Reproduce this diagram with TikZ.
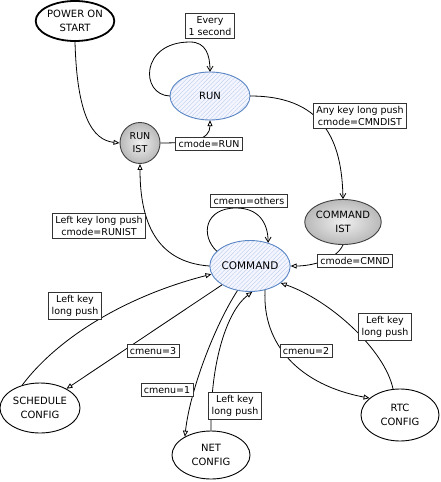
\documentclass[tikz,border=0pt]{standalone}
\usepackage{fontspec}
\setmainfont{DejaVu Sans}
\usetikzlibrary{shapes.geometric,arrows.meta,patterns.meta}
\definecolor{sblue}{HTML}{5A86C4}
\definecolor{hblue}{HTML}{B4CBEA}
\tikzset{
  st/.style={ellipse,draw,line width=0.9pt,inner sep=0pt,align=center,font=\fontsize{10}{14}\selectfont},
  bluest/.style={st,draw=sblue,preaction={fill=blue!4},pattern={Lines[angle=45,distance=3pt,line width=0.35pt]},pattern color=hblue},
  grayst/.style={st,draw=black!75,shading=radial,inner color=gray!12,outer color=gray!55},
  lbl/.style={draw=black!80,fill=white,line width=0.5pt,inner sep=3pt,align=center,font=\fontsize{9.5}{12}\selectfont},
  conn/.style={line width=0.8pt,-{Triangle[open,length=6pt,width=5pt]}},
  connb/.style={line width=0.8pt,-{Straight Barb[length=5pt,width=6pt]}}
}
\begin{document}
\begin{tikzpicture}[x=1pt,y=-1pt]
\useasboundingbox (0,0) rectangle (441,482);
% states
\node[st,line width=1.8pt,minimum width=70pt,minimum height=40pt] (power) at (75,21) {POWER ON\\START};
\node[bluest,minimum width=80pt,minimum height=48pt] (run) at (210,96) {RUN};
\node[grayst,minimum width=40pt,minimum height=41pt,font=\fontsize{9.5}{13}\selectfont] (runist) at (140,143) {RUN\\IST};
\node[grayst,minimum width=66pt,minimum height=45pt] (cmdist) at (343,222) {COMMAND\\IST};
\node[bluest,minimum width=80pt,minimum height=51pt,font=\fontsize{10.5}{14}\selectfont] (command) at (250,266) {COMMAND};
\node[st,minimum width=80pt,minimum height=50pt] (sched) at (40,408) {SCHEDULE\\CONFIG};
\node[st,minimum width=78pt,minimum height=48pt] (net) at (211,455) {NET\\CONFIG};
\node[st,minimum width=78pt,minimum height=52pt] (rtc) at (400,415) {RTC\\CONFIG};
% connectors
\draw[conn] (power.south) .. controls (77,115) and (92,140) .. (runist.west);
\draw[conn] (runist.east) .. controls (192,143) and (210,140) .. (run.south);
\draw[connb] (run.west) .. controls (140,95) and (140,42) .. (190,42) .. controls (206,42) and (210,55) .. (run.north);
\draw[connb] (run.east) .. controls (330,96) and (342,150) .. (cmdist.north);
\draw[conn] (cmdist.south) .. controls (336,260) and (312,266) .. (command.east);
\draw[conn] (command.west) .. controls (155,262) and (140,220) .. (runist.south);
\draw[connb] (command.156) .. controls (200,235) and (205,208) .. (236,208) .. controls (258,208) and (268,222) .. (command.52);
\draw[conn] (sched.128) .. controls (60,335) and (130,295) .. (command.192);
\draw[conn] (command.214) -- (sched.36);
\draw[conn] (command.243) .. controls (215,325) and (190,390) .. (net.145);
\draw[conn] (net.north) .. controls (210,360) and (228,310) .. (command.275);
\draw[conn] (command.302) .. controls (262,345) and (300,385) .. (rtc.151);
\draw[conn] (rtc.105) .. controls (385,350) and (330,300) .. (command.331);
% labels
\node[lbl] (l1) at (210,26) {Every\\1 second};
\node[lbl] (l2) at (360,116) {Any key long push\\cmode=CMNDIST};
\node[lbl] (l3) at (209,144) {cmode=RUN};
\node[lbl] (l4) at (249,201) {cmenu=others};
\node[lbl] (l5) at (99,226) {Left key long push\\cmode=RUNIST};
\node[lbl] (l6) at (355,261) {cmode=CMND};
\node[lbl] (l7) at (75,306) {Left key\\long push};
\node[lbl] (l8) at (153,351) {cmenu=3};
\node[lbl] (l9) at (167,390) {cmenu=1};
\node[lbl] (l10) at (235,406) {Left key\\long push};
\node[lbl] (l11) at (306,351) {cmenu=2};
\node[lbl] (l12) at (385,327) {Left key\\long push};
\end{tikzpicture}
\end{document}
